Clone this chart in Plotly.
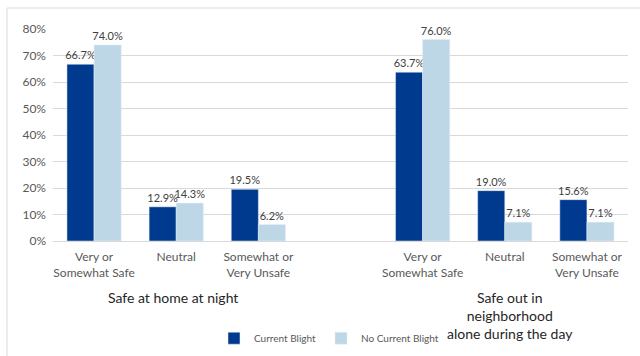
import plotly.graph_objects as go

categories = ["Very or<br>Somewhat Safe", "Neutral", "Somewhat or<br>Very Unsafe", "",
              "Very or<br>Somewhat Safe", "Neutral", "Somewhat or<br>Very Unsafe"]
current_blight = [0.667, 0.129, 0.195, None, 0.637, 0.190, 0.156]
no_current_blight = [0.740, 0.143, 0.062, None, 0.760, 0.071, 0.071]
group_labels = ["Safe at home at night", "Safe out in<br>neighborhood<br>alone during the day"]
group_pos = [0.96, 5.06]
y_ticks = [0, 0.1, 0.2, 0.3, 0.4, 0.5, 0.6, 0.7, 0.8]
y_ticktext = ["0%", "10%", "20%", "30%", "40%", "50%", "60%", "70%", "80%"]

xs = list(range(len(categories)))
FONT = "Lato, 'Open Sans', sans-serif"

def lab(v):
    return [("" if x is None else f"{x*100:.1f}%") for x in v]

fig = go.Figure()
fig.add_trace(go.Bar(x=xs, y=current_blight, name="Current Blight", marker_color="#003A8F",
                     text=lab(current_blight), textposition="outside", cliponaxis=False,
                     constraintext="none",
                     textfont=dict(size=11, color="#404040")))
fig.add_trace(go.Bar(x=xs, y=no_current_blight, name="No Current Blight", marker_color="#BDD7E7",
                     text=lab(no_current_blight), textposition="outside", cliponaxis=False,
                     constraintext="none",
                     textfont=dict(size=11, color="#404040")))

for t, p in zip(group_labels, group_pos):
    fig.add_annotation(x=p, xref="x", y=-0.215, yref="paper", yanchor="top", text=t,
                       showarrow=False, font=dict(size=14, color="#262626", family=FONT))

fig.add_shape(type="rect", xref="paper", yref="paper",
              x0=(7-53)/575, x1=2.0, y0=-3.0, y1=(241-8)/212,
              line=dict(color="#D9D9D9", width=1), fillcolor="rgba(0,0,0,0)", layer="below")

fig.update_layout(
    width=640, height=356,
    margin=dict(l=53, r=12, t=29, b=115, autoexpand=False),
    paper_bgcolor="white", plot_bgcolor="white",
    barmode="group", bargap=0.34, bargroupgap=0,
    font=dict(family=FONT, size=12, color="#595959"),
    showlegend=True,
    legend=dict(orientation="h", xref="container", x=214/640, xanchor="left",
                yref="container", y=0.05, yanchor="middle",
                font=dict(size=10, color="#595959"), itemwidth=30,
                traceorder="normal"),
    xaxis=dict(tickmode="array", tickvals=xs, ticktext=categories, range=[-0.5, 6.5],
               showgrid=False, showline=True, linecolor="#D9D9D9", ticks="outside",
               ticklen=5, tickcolor="rgba(0,0,0,0)", automargin=False,
               tickfont=dict(size=12, color="#595959")),
    yaxis=dict(range=[0, 0.8], tickvals=y_ticks, ticktext=y_ticktext, showgrid=True,
               gridcolor="#D9D9D9", zeroline=False, ticks="", ticklabelstandoff=6, automargin=False,
               tickfont=dict(size=12, color="#595959")),
)

fig.write_html("out.html")
